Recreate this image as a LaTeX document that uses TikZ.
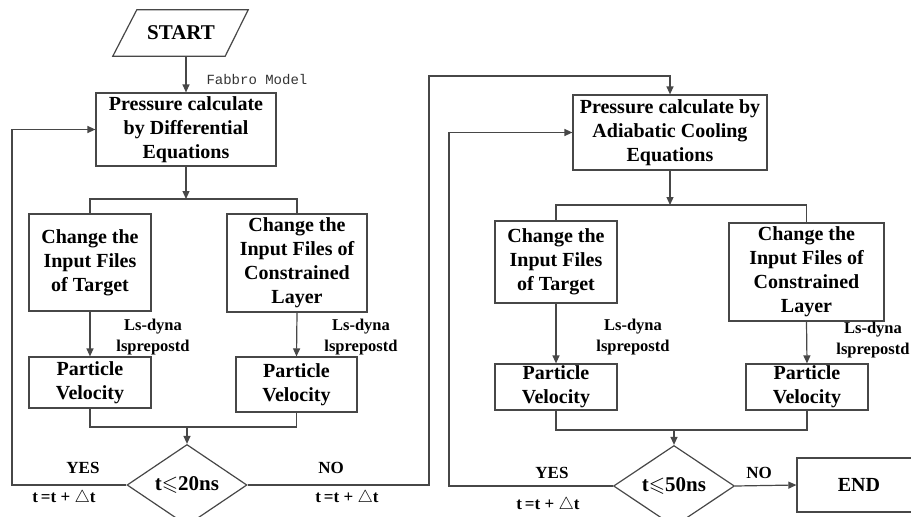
\documentclass[tikz,border=0pt]{standalone}
\usepackage{amssymb}
\usepackage{fontspec}
\setmainfont{Liberation Serif}
\newfontfamily\codefont{Liberation Mono}
\usetikzlibrary{shapes.geometric,arrows.meta}

\tikzset{
  every picture/.style={x=1pt,y=-1pt},
  line/.style={draw=black!72,line width=1.2pt},
  arr/.style={line,-{Triangle[length=8pt,width=7pt]}},
  box/.style={line,rectangle,align=center,inner xsep=2pt,inner ysep=1pt,
    font=\fontsize{20}{24}\selectfont\bfseries},
  cond/.style={line,diamond,inner sep=0pt,minimum width=#1,minimum height=72pt,
    font=\fontsize{21}{24}\selectfont\bfseries},
  tool/.style={align=center,font=\fontsize{16.5}{21}\selectfont\bfseries},
  branch/.style={font=\fontsize{17}{20}\selectfont\bfseries},
}

\begin{document}
\begin{tikzpicture}
\clip (0,0) rectangle (911,517);

% ---------- stage 1: differential equations ----------
\node[font=\fontsize{21}{24}\selectfont\bfseries,minimum width=112pt,minimum height=46pt,inner sep=0pt]
  (start) at (181,33) {START};
\draw[line] ([xshift=-12pt]start.south west) -- ([xshift=12pt]start.north west)
  -- ([xshift=11pt]start.north east) -- ([xshift=-12pt]start.south east) -- cycle;

\node[box,minimum width=180pt,minimum height=73pt] (p1) at (186,129.5)
  {Pressure calculate\\by Differential\\Equations};
\node[box,minimum width=122pt,minimum height=97pt] (a1) at (90,262.5)
  {Change the\\Input Files\\of Target};
\node[box,minimum width=140pt,minimum height=98pt] (b1) at (297,263)
  {Change the\\Input Files of\\Constrained\\Layer};
\node[box,minimum width=122pt,minimum height=51pt] (v1a) at (90,382.5)
  {Particle\\Velocity};
\node[box,minimum width=121pt,minimum height=55pt] (v1b) at (296.5,384.5)
  {Particle\\Velocity};
\node[cond=120pt] (d1) at (187,485) {t$\leqslant$20ns};

\coordinate (s1) at (186,199);
\coordinate (m1) at (187,427);
\coordinate (l1) at (12,485);
\coordinate (r1) at (429,76);

\node[anchor=west,font=\codefont\fontsize{14}{16}\selectfont,text=black!80]
  (fabbro) at (203,80) {Fabbro Model};
\node[tool] (ls1a) at (153,337) {Ls-dyna\\lsprepostd};
\node[tool] (ls1b) at (361,337) {Ls-dyna\\lsprepostd};
\node[branch] (yes1) at (83,468) {YES};
\node[branch] (dt1) at (64,498) {t\,=t + $\triangle$t};
\node[branch] (no1) at (331,468) {NO};
\node[branch] (dt2) at (347,498) {t\,=t + $\triangle$t};

\draw[arr] (start.south -| p1.north) -- (p1.north);
\draw[arr] (p1.south) -- (s1);
\draw[line] (a1.north) |- (s1) -| (b1.north);
\draw[arr] (a1.south) -- (v1a.north);
\draw[arr] (b1.south) -- (v1b.north);
\draw[line] (v1a.south) |- (m1) -| (v1b.south);
\draw[arr] (m1) -- (d1.north);
\draw[arr] (d1.west) -- (l1) |- (p1.west);

% ---------- stage 2: adiabatic cooling ----------
\node[box,minimum width=194pt,minimum height=75pt] (p2) at (670,132.5)
  {Pressure calculate by\\Adiabatic Cooling\\Equations};
\node[box,minimum width=122pt,minimum height=82pt] (a2) at (556,262)
  {Change the\\Input Files\\of Target};
\node[box,minimum width=155pt,minimum height=98pt] (b2) at (806.5,272)
  {Change the\\Input Files of\\Constrained\\Layer};
\node[box,minimum width=122pt,minimum height=46pt] (v2a) at (556,387)
  {Particle\\Velocity};
\node[box,minimum width=122pt,minimum height=46pt] (v2b) at (807,387)
  {Particle\\Velocity};
\node[cond=121pt] (d2) at (674,486) {t$\leqslant$50ns};
\node[box,minimum width=124pt,minimum height=54pt] (end) at (859,485) {END};

\coordinate (s2) at (670,205);
\coordinate (m2) at (674,430);
\coordinate (l2) at (449,486);

\node[tool] (ls2a) at (633,337) {Ls-dyna\\lsprepostd};
\node[tool] (ls2b) at (873,340) {Ls-dyna\\lsprepostd};
\node[branch] (yes2) at (552,473) {YES};
\node[branch] (dt3) at (548,505) {t\,=t + $\triangle$t};
\node[branch] (no2) at (759,473) {NO};

\draw[arr] (d1.east) -| (r1) -| (p2.north);
\draw[arr] (p2.south) -- (s2);
\draw[line] (a2.north) |- (s2) -| (b2.north);
\draw[arr] (a2.south) -- (v2a.north);
\draw[arr] (b2.south) -- (v2b.north);
\draw[line] (v2a.south) |- (m2) -| (v2b.south);
\draw[arr] (m2) -- (d2.north);
\draw[arr] (d2.west) -- (l2) |- (p2.west);
\draw[arr] (d2.east) -- (end.west);
\end{tikzpicture}
\end{document}
